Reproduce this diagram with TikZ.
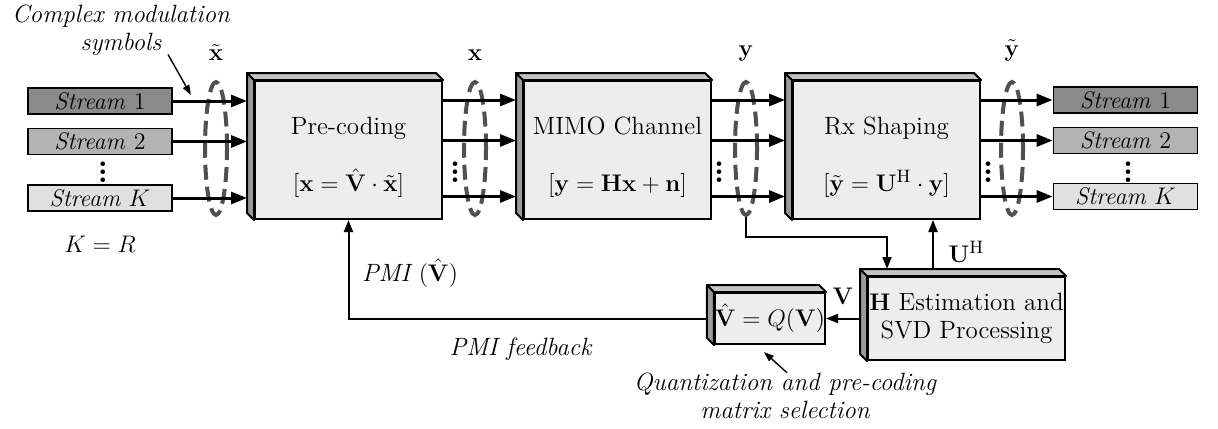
\documentclass[tikz,border=0pt]{standalone}
\usepackage{amsmath}
\usepackage{amssymb}
\usepackage{tikz}
\usetikzlibrary{positioning, arrows.meta, shapes.geometric, calc}

\definecolor{facegray}{HTML}{EDEDED}
\definecolor{sidegray}{HTML}{9A9A9A}
\definecolor{topgray}{HTML}{C4C4C4}
\definecolor{sonegray}{HTML}{8A8A8A}
\definecolor{stwogray}{HTML}{B3B3B3}
\definecolor{skgray}{HTML}{E0E0E0}
\definecolor{ringgray}{HTML}{505050}

% side and top faces of a 3D block
\newcommand{\boxdepth}[1]{%
  \filldraw[depthside] (#1.north west) -- ++(-7,-7) -- ($(#1.south west)+(-7,-7)$) -- (#1.south west) -- cycle;
  \filldraw[depthtop] (#1.north west) -- ++(-7,-7) -- ($(#1.north east)+(-7,-7)$) -- (#1.north east) -- cycle;}

\begin{document}
\begin{tikzpicture}[
    x=0.5pt, y=-0.5pt,
    node distance=40pt,
    block/.style={draw, line width=1pt, fill=facegray, minimum width=93.5pt, minimum height=69pt, inner sep=0pt, align=center, font=\fontsize{12.5}{15}\selectfont},
    estbox/.style={block, minimum width=98.5pt, minimum height=41.5pt, font=\fontsize{12.5}{14}\selectfont},
    qbox/.style={block, minimum width=51.5pt, minimum height=25.5pt, font=\fontsize{11.5}{13}\selectfont},
    stream/.style={draw, line width=0.9pt, minimum width=72pt, minimum height=13pt, inner sep=0pt, font=\fontsize{12}{13}\selectfont\itshape},
    ring/.style={draw=ringgray, ellipse, dash pattern=on 7.5pt off 3.5pt, line width=2pt, minimum width=11pt, minimum height=66.5pt, inner sep=0pt},
    sig/.style={font=\fontsize{13}{15}\selectfont},
    note/.style={font=\fontsize{12.5}{14}\selectfont\itshape, align=center},
    dots/.style={font=\fontsize{16}{16}\selectfont\bfseries, inner sep=0pt},
    sigarrow/.style={line width=1.5pt, -{Triangle[length=8pt, width=6pt]}},
    fbarrow/.style={line width=1pt, -{Triangle[length=6pt, width=4.5pt]}},
    notearrow/.style={line width=0.7pt, -{Triangle[length=5pt, width=3.5pt]}},
    depthside/.style={fill=sidegray, draw, line width=1pt, line join=round},
    depthtop/.style={fill=topgray, draw, line width=1pt, line join=round}
]
\useasboundingbox (0,0) rectangle (1218,428);

% main blocks
\node[block] (pre) at (348.5,150) {\mbox{}\\[1pt]Pre-coding\\[13.5pt]$[\mathbf{x} = \hat{\mathbf{V}}\cdot\tilde{\mathbf{x}}]$};
\node[block, right=of pre] (mimo) {\mbox{}\\[1pt]MIMO Channel\\[13.5pt]$[\mathbf{y} = \mathbf{Hx} + \mathbf{n}]$};
\node[block, right=of mimo] (rx) {\mbox{}\\[1pt]Rx Shaping\\[13.5pt]$[\tilde{\mathbf{y}} = \mathbf{U}^{\mathrm{H}}\cdot\mathbf{y}]$};
\node[estbox] (est) at (966.5,318.5) {$\mathbf{H}$ Estimation and\\SVD Processing};
\node[qbox, left=20.5pt of est] (quant) {$\hat{\mathbf{V}} = Q(\mathbf{V})$};
\foreach \b in {pre, mimo, rx, est, quant} {\boxdepth{\b}}

% streams
\node[stream, fill=sonegray] (in1) at (100,101) {Stream \textup{1}};
\node[stream, fill=stwogray] (in2) at (100,141.5) {Stream \textup{2}};
\node[stream, fill=skgray] (inK) at (100,198) {Stream $K$};
\node[stream, fill=sonegray] (out1) at (1125.5,100) {Stream \textup{1}};
\node[stream, fill=stwogray] (out2) at (1125.5,140.5) {Stream \textup{2}};
\node[stream, fill=skgray] (outK) at (1125.5,196.5) {Stream $K$};
\node[dots] (indots) at (103,166) {$\vdots$};
\node[dots] (outdots) at (1128,166) {$\vdots$};
\node[dots] (predots) at (455,166) {$\vdots$};
\node[dots] (mimodots) at (719,166) {$\vdots$};
\node[dots] (rxdots) at (988,166) {$\vdots$};

% vector rings
\node[ring] (r1) at (216,148.5) {};
\node[ring] (r2) at (475,148.5) {};
\node[ring] (r3) at (746,148.5) {};
\node[ring] (r4) at (1012,148.5) {};
\node[sig, above=6pt of r1] (xtl) {$\tilde{\mathbf{x}}$};
\node[sig, above=6pt of r2] (xl) {$\mathbf{x}$};
\node[sig, above=6pt of r3] (yl) {$\mathbf{y}$};
\node[sig, above=6pt of r4] (ytl) {$\tilde{\mathbf{y}}$};

% signal arrows
\foreach \s in {in1, in2, inK}
  \draw[sigarrow, shorten >=3.5pt] (\s) -- (\s -| pre.west);
\foreach \s in {out1, out2, outK} {
  \draw[sigarrow, shorten >=3.5pt] (pre.east |- \s) -- (mimo.west |- \s);
  \draw[sigarrow, shorten >=3.5pt] (mimo.east |- \s) -- (rx.west |- \s);
  \draw[sigarrow] (rx.east |- \s) -- (\s);
}

% feedback paths
\coordinate (yturn) at (746,237);
\coordinate (estin) at ($(est.north west)+(20,-7)$);
\coordinate (uhfoot) at ($(est.north west)+(66,-7)$);
\draw[fbarrow] (r3.south) -- (yturn) -| (estin);
\draw[fbarrow] (uhfoot) -- (uhfoot |- rx.south) node[sig, pos=0.35, right=4pt] {$\mathbf{U}^{\mathrm{H}}$};
\draw[fbarrow] ([xshift=-3.5pt]est.west |- quant.east) -- (quant.east) node[sig, midway, above=3pt] {$\mathbf{V}$};
\draw[fbarrow] ([xshift=-3.5pt]quant.west) -| (pre.south)
  node[note, pos=0.26, below=6pt] {PMI feedback}
  node[note, pos=0.73, right=3pt] {PMI $(\hat{\mathbf{V}})$};

% notes
\node[note] (cms) at (121,30) {Complex modulation\\symbols};
\coordinate (symtip) at ($(in1.east)+(18,-6)$);
\draw[notearrow] ([xshift=23.5pt, yshift=4pt]cms.south) -- (symtip);
\node[note] (kr) at (100,244) {$K = R$};
\node[note, inner sep=1pt] (qnote) at (785,396) {Quantization and pre-coding\\matrix selection};
\draw[notearrow] ([xshift=1pt, yshift=-1pt]qnote.north) -- ([xshift=-3pt, yshift=-3.5pt]quant.south);
\end{tikzpicture}
\end{document}
